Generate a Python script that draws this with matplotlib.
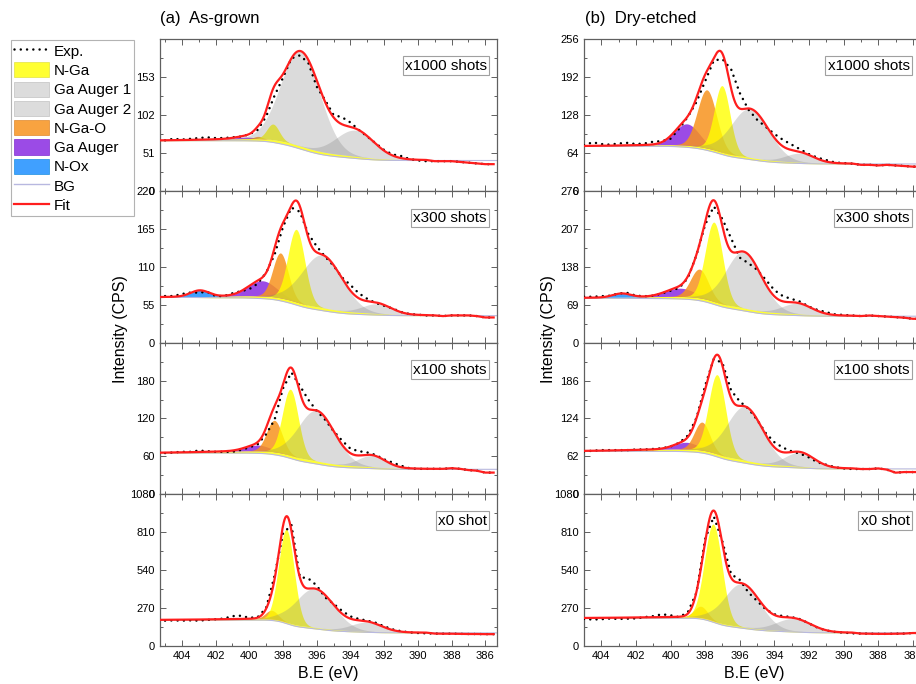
import numpy as np
import matplotlib.pyplot as plt
from matplotlib.patches import Patch
from matplotlib.lines import Line2D

plt.rcParams['font.family'] = ['Liberation Sans', 'DejaVu Sans']

# panel order: (a) as-grown 1000/300/100/0 shots, then (b) dry-etched
panels = ['a1000', 'a300', 'a100', 'a0', 'b1000', 'b300', 'b100', 'b0']
shot_labels = ['x1000 shots', 'x300 shots', 'x100 shots', 'x0 shot'] * 2

# measured spectra (B.E grid in eV, counts per second)
be = np.arange(405.0, 385.4, -0.5)
exp_a1000 = [68, 70, 69, 70, 71, 72, 71, 71, 72, 73, 76, 82, 100, 128, 152, 178, 182, 172, 140, 122,
             102, 99, 92, 82, 73, 64, 55, 49, 47, 43, 41, 40, 40, 40, 40, 39, 38, 37, 36, 36]
exp_a300 = [68, 68, 71, 73, 73, 74, 68, 68, 72, 75, 78, 86, 102, 128, 168, 196, 190, 158, 140, 125,
            112, 95, 84, 72, 64, 58, 54, 50, 45, 42, 41, 40, 40, 39, 40, 40, 40, 39, 37, 37]
exp_a100 = [65, 66, 67, 67, 69, 68, 67, 67, 67, 70, 74, 79, 95, 118, 168, 193, 172, 150, 132, 118,
            100, 85, 72, 68, 66, 62, 55, 50, 45, 41, 40, 40, 40, 40, 41, 40, 38, 37, 34, 34]
exp_a0 = [180, 182, 180, 182, 180, 185, 190, 195, 212, 215, 200, 205, 270, 500, 800, 860, 490, 480, 430, 345,
          300, 250, 210, 192, 180, 165, 140, 118, 105, 97, 92, 90, 88, 87, 87, 86, 85, 85, 84, 84]
exp_b1000 = [77, 82, 79, 78, 80, 81, 79, 80, 83, 84, 88, 105, 125, 150, 185, 220, 222, 205, 165, 137,
             120, 108, 96, 86, 78, 70, 62, 56, 52, 48, 47, 46, 44, 44, 43, 44, 43, 42, 41, 41]
exp_b300 = [84, 84, 85, 86, 90, 91, 86, 85, 86, 90, 95, 100, 118, 160, 215, 248, 225, 190, 155, 145,
            133, 115, 96, 85, 80, 75, 66, 60, 56, 52, 51, 50, 49, 50, 49, 48, 47, 46, 44, 44]
exp_b100 = [70, 71, 72, 72, 72, 72, 73, 73, 74, 75, 78, 84, 96, 125, 178, 222, 215, 170, 152, 140,
            122, 100, 85, 76, 70, 66, 60, 52, 48, 44, 42, 41, 41, 41, 42, 40, 35, 36, 36, 36]
exp_b0 = [192, 188, 190, 195, 192, 194, 196, 205, 212, 225, 218, 205, 240, 380, 760, 920, 740, 510, 470, 380,
          320, 260, 225, 212, 205, 190, 160, 130, 110, 100, 95, 90, 88, 87, 86, 86, 87, 88, 92, 92]
exp_all = [exp_a1000, exp_a300, exp_a100, exp_a0, exp_b1000, exp_b300, exp_b100, exp_b0]

# fitted components: centre (eV), height (CPS), FWHM (eV), one value per panel
nga_c = [398.59, 397.21, 397.56, 397.80, 397.02, 397.49, 397.31, 397.53]
nga_h = [21, 105, 105, 659, 112, 144, 130, 687]
nga_w = [0.85, 1.17, 1.10, 1.07, 1.06, 1.17, 1.15, 1.18]
aug1_c = [396.96, 395.68, 396.01, 396.11, 395.41, 395.77, 395.69, 395.87]
aug1_h = [127, 76, 80, 275, 82, 102, 88, 305]
aug1_w = [2.73, 2.79, 2.56, 2.66, 2.56, 2.43, 2.45, 2.43]
aug2_c = [393.72, 392.42, 392.72, 393.03, 392.53, 392.68, 392.53, 392.89]
aug2_h = [35, 14, 18, 65, 15, 19, 23, 89]
aug2_w = [2.66, 2.02, 1.88, 2.14, 1.92, 2.01, 1.96, 2.35]
ngao_c = [399.48, 398.15, 398.51, 398.68, 397.90, 398.33, 398.18, 398.25]
ngao_h = [3, 65, 50, 62, 98, 52, 46, 80]
ngao_w = [0.56, 1.07, 1.06, 0.85, 1.29, 1.20, 1.03, 0.88]
gaaug_c = [400.32, 399.24, 399.52, 399.5, 399.06, 399.45, 399.11, 399.5]
gaaug_h = [2, 22, 9, 0, 36, 15, 11, 0]
gaaug_w = [1.51, 1.92, 1.64, 1.6, 1.66, 1.91, 1.56, 1.6]
nox_c = [402.9, 402.93, 402.9, 402.9, 402.8, 402.81, 402.8, 402.8]
nox_h = [0, 9, 0, 0, 0, 7, 0, 0]
nox_w = [1.2, 1.28, 1.2, 1.2, 1.2, 1.21, 1.2, 1.2]

# Shirley background end levels and the thin N-Ga pedestal
bg_hi = [67.5, 66.1, 65.1, 184.4, 75.3, 81.4, 70.1, 197.5]
bg_lo = [40.9, 39.6, 39.2, 93, 45.5, 48.7, 41.2, 93]
band_h = [4, 4.5, 5, 11, 4, 5.5, 5, 11]

# y axis ranges and labelled ticks
ylims = [204, 220, 240, 1080, 256, 276, 248, 1080]
yticks = [[0, 51, 102, 153], [0, 55, 110, 165, 220], [0, 60, 120, 180], [0, 270, 540, 810, 1080],
          [0, 64, 128, 192, 256], [0, 69, 138, 207, 276], [0, 62, 124, 186], [0, 270, 540, 810, 1080]]

c_yellow = '#FFFF00'
c_gray = '#808080'
c_orange = '#F7931E'
c_purple = '#8A2BE2'
c_blue = '#1E90FF'
c_bg = '#B8B8E0'
c_fit = '#FF1E1E'


def gauss(x, c, h, w):
    return h * np.exp(-4 * np.log(2) * (x - c) ** 2 / w ** 2)


fig = plt.figure(figsize=(9.16, 6.84), dpi=100)
col_x = [160 / 916, 584 / 916]
col_w = [337 / 916, 341 / 916]
col_xlim = [(405.3, 385.3), (405.0, 385.3)]
row_b = [0.7208, 0.4985, 0.2778, 0.0556]
row_h = [0.2222, 0.2222, 0.2208, 0.2222]
box_x = [0.97, 0.955]

x = np.linspace(405.3, 385.3, 1200)

for i, name in enumerate(panels):
    col, row = divmod(i, 4)
    ax = fig.add_axes([col_x[col], row_b[row], col_w[col], row_h[row]])

    nga = gauss(x, nga_c[i], nga_h[i], nga_w[i])
    a1 = gauss(x, aug1_c[i], aug1_h[i], aug1_w[i])
    a2 = gauss(x, aug2_c[i], aug2_h[i], aug2_w[i])
    ngao = gauss(x, ngao_c[i], ngao_h[i], ngao_w[i])
    gaa = gauss(x, gaaug_c[i], gaaug_h[i], gaaug_w[i])
    nox = gauss(x, nox_c[i], nox_h[i], nox_w[i])
    total = nga + a1 + a2 + ngao + gaa + nox

    # Shirley background from the cumulative peak area
    xa = x[::-1]
    ta = total[::-1]
    cum = np.concatenate([[0], np.cumsum((ta[1:] + ta[:-1]) / 2 * np.diff(xa))])
    frac = (cum / cum[-1])[::-1]
    bg = bg_lo[i] + (bg_hi[i] - bg_lo[i]) * frac
    band = band_h[i] * np.exp(-0.5 * ((x - 397.0) / 4.0) ** 2)
    base = bg + band

    ax.fill_between(x, bg, base, color=c_yellow, alpha=0.8, lw=0, zorder=1)
    for comp, colr, a in [(nox, c_blue, 0.85), (gaa, c_purple, 0.85), (ngao, c_orange, 0.85),
                          (nga, c_yellow, 0.8), (a1, c_gray, 0.28), (a2, c_gray, 0.28)]:
        if comp.max() > 0:
            ax.fill_between(x, base, base + comp, color=colr, alpha=a, lw=0, zorder=1)
    ax.plot(x, bg, color=c_bg, lw=0.8, zorder=2)

    e = np.array(exp_all[i], dtype=float)
    ax.plot(be, e, color='black', lw=1.8, ls=(0, (0.01, 2.5)), dash_capstyle='round', zorder=3)

    fit = base + total
    m = x >= 389.5
    tail = be < 389.5
    ax.plot(np.concatenate([x[m], be[tail]]), np.concatenate([fit[m], e[tail]]),
            color=c_fit, lw=1.6, zorder=4)

    ax.set_xlim(*col_xlim[col])
    ax.set_ylim(0, ylims[i])
    ax.set_xticks(np.arange(404, 385, -2))
    ax.set_xticks(np.arange(405, 385, -1), minor=True)
    ax.set_yticks(yticks[i])
    step = yticks[i][1] / 2
    ax.set_yticks(np.arange(0, ylims[i] + 0.1, step), minor=True)
    ax.tick_params(which='both', direction='in', top=True, right=True, labelsize=8,
                   color='#606060', width=0.7)
    ax.tick_params(which='major', length=4)
    ax.tick_params(which='minor', length=2)
    for s in ax.spines.values():
        s.set_color('#606060')
        s.set_linewidth(0.9)
    if row < 3:
        ax.tick_params(labelbottom=False)
    else:
        ax.set_xlabel('B.E (eV)', fontsize=11.5, labelpad=4)

    ax.text(box_x[col], 0.87, shot_labels[i], transform=ax.transAxes, ha='right', va='top',
            fontsize=11, zorder=5,
            bbox=dict(boxstyle='square,pad=0.15', fc='white', ec='#A0A0A0', lw=0.8))

fig.text(160 / 916, 1 - 18 / 684, '(a)  As-grown', fontsize=12, ha='left', va='center')
fig.text(585 / 916, 1 - 18 / 684, '(b)  Dry-etched', fontsize=12, ha='left', va='center')
fig.text(121 / 916, 1 - 329 / 684, 'Intensity (CPS)', fontsize=11.5, rotation=90, ha='center', va='center')
fig.text(548 / 916, 1 - 329 / 684, 'Intensity (CPS)', fontsize=11.5, rotation=90, ha='center', va='center')

handles = [
    Line2D([], [], color='black', lw=1.8, ls=(0, (0.01, 2.5)), dash_capstyle='round'),
    Patch(fc=c_yellow, ec='#E0E040', alpha=0.8, lw=0.6),
    Patch(fc='#DCDCDC', ec='#C8C8C8', lw=0.6),
    Patch(fc='#DCDCDC', ec='#C8C8C8', lw=0.6),
    Patch(fc=c_orange, ec='#E08A30', alpha=0.85, lw=0.6),
    Patch(fc=c_purple, ec='#8030D0', alpha=0.85, lw=0.6),
    Patch(fc=c_blue, ec='#2090E0', alpha=0.85, lw=0.6),
    Line2D([], [], color=c_bg, lw=1.0),
    Line2D([], [], color=c_fit, lw=1.6),
]
labels = ['Exp.', 'N-Ga', 'Ga Auger 1', 'Ga Auger 2', 'N-Ga-O', 'Ga Auger', 'N-Ox', 'BG', 'Fit']
leg = fig.legend(handles, labels, loc='upper left', bbox_to_anchor=(11 / 916, 1 - 40 / 684),
                 fontsize=11, handlelength=2.3, handleheight=1.15, handletextpad=0.3,
                 labelspacing=0.23, borderpad=0.2, borderaxespad=0, frameon=True, fancybox=False)
leg.get_frame().set_edgecolor('#A0A0A0')
leg.get_frame().set_linewidth(0.8)

fig.savefig('out.png', dpi=100)
